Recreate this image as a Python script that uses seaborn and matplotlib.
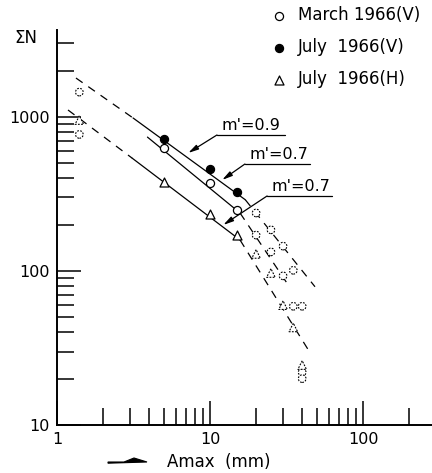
import numpy as np
import matplotlib.pyplot as plt
import seaborn as sns
from matplotlib.patches import Polygon
from matplotlib.ticker import FuncFormatter, NullFormatter, LogLocator

# --- dados ---
# pontos medidos (contorno cheio)
mar_v_x = [5, 10, 15]
mar_v_y = [630, 370, 250]
jul_v_x = [5, 10, 15]
jul_v_y = [720, 460, 325]
jul_h_x = [5, 10, 15]
jul_h_y = [380, 235, 170]

# pontos estimados (contorno tracejado)
est_circ_x = [1.4, 1.4, 20, 25, 30, 35, 40, 20, 25, 30, 35, 40, 40]
est_circ_y = [1450, 770, 238, 185, 145, 101, 59, 171, 133, 93, 59, 22, 20]
est_tri_x = [1.4, 20, 25, 30, 35, 40]
est_tri_y = [955, 129, 97, 60, 43, 24.5]

# retas (vertices e estilo de cada trecho)
reta_v_x = [1.33, 3.14, 17, 48.5]
reta_v_y = [1790, 985, 290, 79]
reta_v_est = ['dash', 'solid', 'dash']
reta_mar_x = [3.9, 15.7, 33]
reta_mar_y = [740, 238, 79]
reta_mar_est = ['solid', 'dash']
reta_h_x = [1.18, 3.1, 15.7, 45]
reta_h_y = [1110, 540, 159, 29.5]
reta_h_est = ['dash', 'solid', 'dash']

# rotulos m'
rotulos = ["m'=0.9", "m'=0.7", "m'=0.7"]
ponta_x = [7.2, 12.0, 12.2]
ponta_y = [584, 390, 199]
sub_x0 = [11.1, 16.9, 23.6]
sub_x1 = [30.9, 45.0, 62.7]
sub_y = [764, 495, 307]

legendas = ['March 1966(V)', 'July  1966(V)', 'July  1966(H)']

sns.set_style('ticks')
plt.rcParams['font.family'] = ['DejaVu Sans']
plt.rcParams['text.color'] = 'black'
plt.rcParams['axes.labelcolor'] = 'black'
plt.rcParams['xtick.color'] = 'black'
plt.rcParams['ytick.color'] = 'black'

W, H = 432, 473
fig = plt.figure(figsize=(W / 100, H / 100), dpi=100)
ax = fig.add_axes([57 / W, 48 / H, 375 / W, 395 / H])
ax.set_xscale('log')
ax.set_yscale('log')

TRACO = (0, (6.5, 5.5))
for xs, ys, est in [(reta_v_x, reta_v_y, reta_v_est),
                    (reta_mar_x, reta_mar_y, reta_mar_est),
                    (reta_h_x, reta_h_y, reta_h_est)]:
    for i, e in enumerate(est):
        sns.lineplot(x=xs[i:i + 2], y=ys[i:i + 2], ax=ax, color='black', lw=0.9,
                     estimator=None, sort=False,
                     linestyle=TRACO if e == 'dash' else '-', zorder=2)

# marcadores estimados
sns.scatterplot(x=est_circ_x, y=est_circ_y, ax=ax, marker='o', s=30,
                facecolor='white', edgecolor='black', linewidth=0.8,
                linestyle=(0, (1.6, 1.2)), zorder=3)
sns.scatterplot(x=est_tri_x, y=est_tri_y, ax=ax, marker='^', s=38,
                facecolor='white', edgecolor='black', linewidth=0.8,
                linestyle=(0, (1.6, 1.2)), zorder=3)

# marcadores medidos
sns.scatterplot(x=mar_v_x, y=mar_v_y, ax=ax, marker='o', s=34,
                facecolor='white', edgecolor='black', linewidth=0.9,
                label=legendas[0], zorder=4)
sns.scatterplot(x=jul_v_x, y=jul_v_y, ax=ax, marker='o', s=34,
                facecolor='black', edgecolor='black', linewidth=0.9,
                label=legendas[1], zorder=4)
sns.scatterplot(x=jul_h_x, y=jul_h_y, ax=ax, marker='^', s=42,
                facecolor='white', edgecolor='black', linewidth=0.9,
                label=legendas[2], zorder=4)

# rotulos com linha de chamada
for txt, px, py, x0, x1, yy in zip(rotulos, ponta_x, ponta_y, sub_x0, sub_x1, sub_y):
    ax.plot([x0, x1], [yy, yy], color='black', lw=0.9)
    ax.annotate('', xy=(px, py), xytext=(x0, yy),
                arrowprops=dict(arrowstyle='-|>,head_length=0.6,head_width=0.15',
                                color='black', lw=0.9, shrinkA=0, shrinkB=0))
    ax.annotate(txt, xy=(x0, yy), xytext=(3, 1.5), textcoords='offset points',
                ha='left', va='bottom', fontsize=11.5, color='black')

ax.set_xlim(1, 282)
ax.set_ylim(10, 3670)
ax.xaxis.set_major_locator(LogLocator(base=10, numticks=10))
ax.yaxis.set_major_locator(LogLocator(base=10, numticks=10))
fmt = FuncFormatter(lambda v, p: f'{v:g}')
ax.xaxis.set_major_formatter(fmt)
ax.yaxis.set_major_formatter(fmt)
ax.xaxis.set_minor_formatter(NullFormatter())
ax.yaxis.set_minor_formatter(NullFormatter())
ax.tick_params(which='major', direction='in', length=17, width=1.1,
               labelsize=11.5, pad=5, colors='black')
ax.tick_params(which='minor', direction='in', length=12, width=1.1, colors='black')
ax.set_xlabel('')
ax.set_ylabel('')
sns.despine(ax=ax)
for s in ['left', 'bottom']:
    ax.spines[s].set_linewidth(1.4)
    ax.spines[s].set_color('black')

h, l = ax.get_legend_handles_labels()
leg = ax.legend(h, l, loc='upper left', bbox_to_anchor=(271 / W, 1 - 6 / H),
                bbox_transform=fig.transFigure, frameon=False, fontsize=12,
                handlelength=1.0, handletextpad=0.6, labelspacing=0.85,
                borderpad=0, borderaxespad=0)
for t in leg.get_texts():
    t.set_color('black')

fig.text(26 / W, 1 - 38 / H, 'ΣN', ha='center', va='center', fontsize=12, color='black')
fig.text(167 / W, 1 - 462 / H, 'Amax  (mm)', ha='left', va='center', fontsize=12,
         color='black')
simbolo = np.array([[108, 462], [124, 462], [134, 458], [147, 462], [108, 463.2]])
fig.add_artist(Polygon(np.column_stack([simbolo[:, 0] / W, 1 - simbolo[:, 1] / H]),
                       closed=True, facecolor='black', edgecolor='black', lw=0.8,
                       transform=fig.transFigure))

fig.savefig('out.png', dpi=100)
